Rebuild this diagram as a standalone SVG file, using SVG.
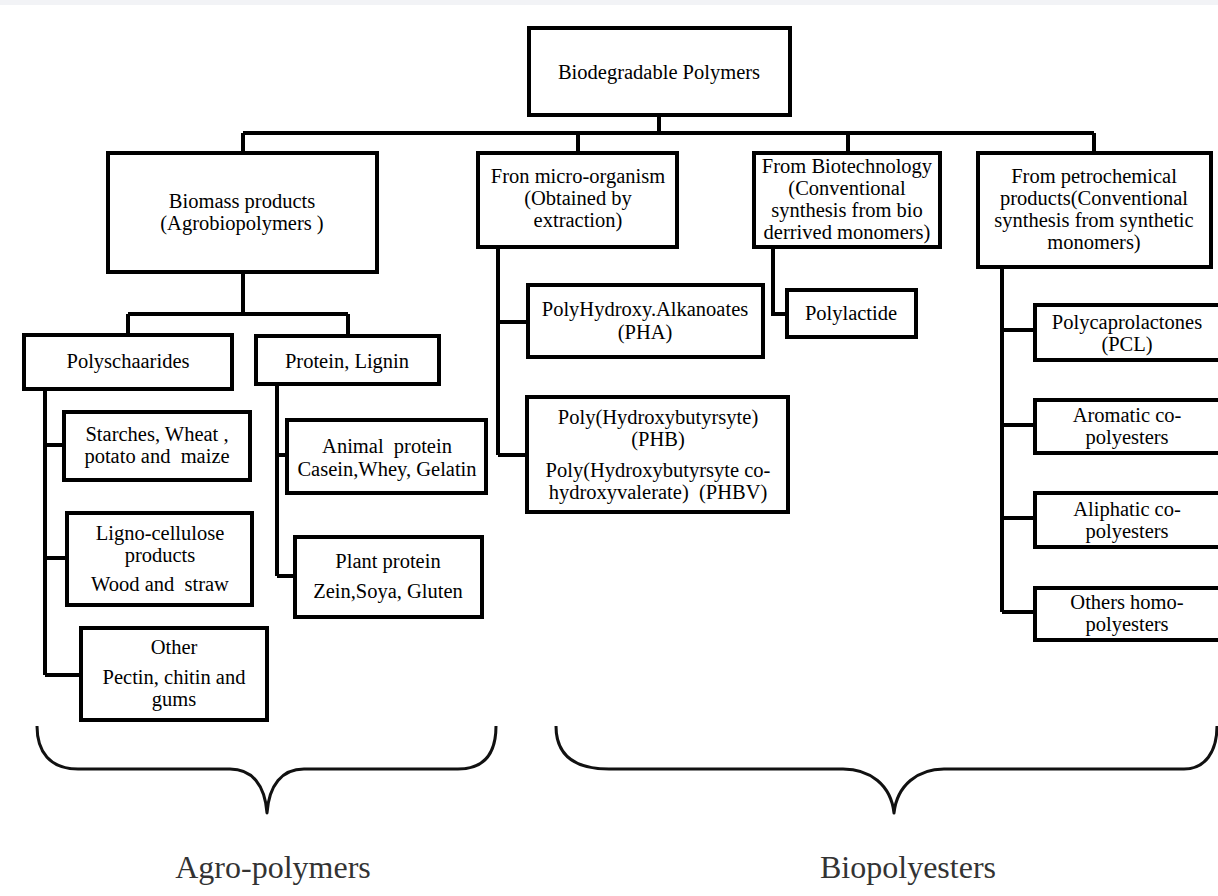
<svg xmlns="http://www.w3.org/2000/svg" width="1218" height="896" viewBox="0 0 1218 896">
<style>
.box{fill:#fff;stroke:#000;stroke-width:4}
.t{font-family:"Liberation Serif","Times New Roman",serif;font-size:20.5px;fill:#000;text-anchor:middle;white-space:pre}
.c{fill:none;stroke:#000;stroke-width:4;stroke-linejoin:miter}
.brace{fill:none;stroke:#111;stroke-width:3;stroke-linejoin:round}
.lab{font-family:"Liberation Serif","Times New Roman",serif;font-size:32px;fill:#333;text-anchor:middle}
</style>
<rect x="0" y="0" width="1218" height="896" fill="#fff"/>
<rect x="0" y="0" width="1218" height="5" fill="#f2f3f6"/>
<g id="connectors">
<path class="c" d="M659,115 V133 M243,133 H1094 M243,133 V153 M578,133 V153 M848,133 V153 M1094,133 V153"/>
<path class="c" d="M243,272 V314 M128,314 H348 M128,314 V335 M348,314 V336"/>
<path class="c" d="M45,389 V675 M45,445 H64 M45,558 H67 M45,675 H81"/>
<path class="c" d="M277,384 V576 M277,455 H287 M277,576 H295"/>
<path class="c" d="M498,247 V455 M498,322 H528 M498,455 H527"/>
<path class="c" d="M773,247 V314 H787"/>
<path class="c" d="M1002,267 V612 M1002,330 H1035 M1002,425 H1035 M1002,518 H1035 M1002,612 H1035"/>
</g>
<g id="root"><rect class="box" x="529" y="28" width="261" height="87"/><text class="t" x="659" y="79">Biodegradable Polymers</text></g>
<g id="biomass"><rect class="box" x="108" y="153" width="269" height="119"/><text class="t" x="242" y="208">Biomass products</text><text class="t" x="242" y="230">(Agrobiopolymers )</text></g>
<g id="micro"><rect class="box" x="478" y="153" width="199" height="94"/><text class="t" x="578" y="183">Fron micro-organism</text><text class="t" x="578" y="205">(Obtained by</text><text class="t" x="578" y="227">extraction)</text></g>
<g id="biotech"><rect class="box" x="754" y="153" width="186" height="94"/><text class="t" x="847" y="173">From Biotechnology</text><text class="t" x="847" y="195">(Conventional</text><text class="t" x="847" y="217">synthesis from bio</text><text class="t" x="847" y="239">derrived monomers)</text></g>
<g id="petro"><rect class="box" x="978" y="153" width="233" height="114"/><text class="t" x="1094" y="183">From petrochemical</text><text class="t" x="1094" y="205">products(Conventional</text><text class="t" x="1094" y="227">synthesis from synthetic</text><text class="t" x="1094" y="249">monomers)</text></g>
<g id="polyschaarides"><rect class="box" x="24" y="335" width="208" height="54"/><text class="t" x="128" y="368">Polyschaarides</text></g>
<g id="protein-lignin"><rect class="box" x="256" y="336" width="183" height="48"/><text class="t" x="347" y="368">Protein, Lignin</text></g>
<g id="starches"><rect class="box" x="64" y="412" width="186" height="68"/><text class="t" x="157" y="441">Starches, Wheat ,</text><text class="t" x="157" y="463">potato and  maize</text></g>
<g id="ligno"><rect class="box" x="67" y="513" width="185" height="92"/><text class="t" x="160" y="540">Ligno-cellulose</text><text class="t" x="160" y="562">products</text><text class="t" x="160" y="591">Wood and  straw</text></g>
<g id="other"><rect class="box" x="81" y="628" width="186" height="92"/><text class="t" x="174" y="654">Other</text><text class="t" x="174" y="684">Pectin, chitin and</text><text class="t" x="174" y="706">gums</text></g>
<g id="animal"><rect class="box" x="287" y="420" width="199" height="73"/><text class="t" x="387" y="453">Animal  protein</text><text class="t" x="387" y="476">Casein,Whey, Gelatin</text></g>
<g id="plant"><rect class="box" x="295" y="537" width="187" height="80"/><text class="t" x="388" y="568">Plant protein</text><text class="t" x="388" y="598">Zein,Soya, Gluten</text></g>
<g id="pha"><rect class="box" x="528" y="285" width="235" height="72"/><text class="t" x="645" y="316">PolyHydroxy.Alkanoates</text><text class="t" x="645" y="339">(PHA)</text></g>
<g id="phb"><rect class="box" x="527" y="397" width="261" height="115"/><text class="t" x="658" y="424">Poly(Hydroxybutyrsyte)</text><text class="t" x="658" y="446">(PHB)</text><text class="t" x="658" y="477">Poly(Hydroxybutyrsyte co-</text><text class="t" x="658" y="499">hydroxyvalerate)  (PHBV)</text></g>
<g id="polylactide"><rect class="box" x="787" y="290" width="129" height="47"/><text class="t" x="851" y="320">Polylactide</text></g>
<g id="pcl"><rect class="box" x="1035" y="305" width="190" height="55"/><text class="t" x="1127" y="329">Polycaprolactones</text><text class="t" x="1127" y="351">(PCL)</text></g>
<g id="aromatic"><rect class="box" x="1035" y="400" width="190" height="53"/><text class="t" x="1127" y="422">Aromatic co-</text><text class="t" x="1127" y="444">polyesters</text></g>
<g id="aliphatic"><rect class="box" x="1035" y="493" width="190" height="54"/><text class="t" x="1127" y="516">Aliphatic co-</text><text class="t" x="1127" y="538">polyesters</text></g>
<g id="others-homo"><rect class="box" x="1035" y="588" width="190" height="52"/><text class="t" x="1127" y="609">Others homo-</text><text class="t" x="1127" y="631">polyesters</text></g>
<g id="agro-brace"><path class="brace" d="M37,726 C37,752 50,769 78,769 L230,769 C252,769 265,785 267,813 C269,785 282,769 304,769 L458,769 C486,769 496,752 496,726"/><text class="lab" x="273" y="878">Agro-polymers</text></g>
<g id="bio-brace"><path class="brace" d="M556,726 C556,752 570,769 609,769 L843,769 C870,769 891,785 894,813 C897,785 918,769 944,769 L1184,769 C1205,769 1217,752 1217,726"/><text class="lab" x="908" y="878">Biopolyesters</text></g>
</svg>
